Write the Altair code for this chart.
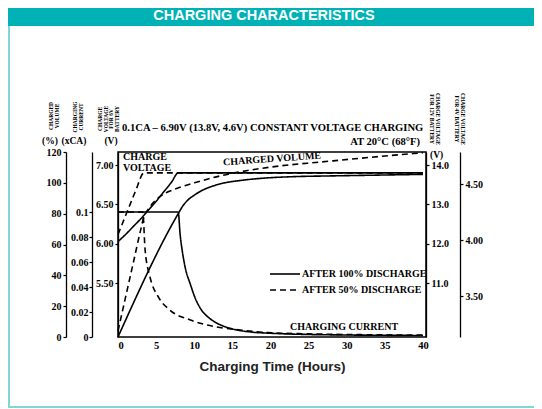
import altair as alt
import pandas as pd

TITLE = "CHARGING CHARACTERISTICS"
X_TITLE = "Charging Time (Hours)"
SUBTITLE = "0.1CA \u2013 6.90V (13.8V, 4.6V) CONSTANT VOLTAGE CHARGING"
SUBTITLE2 = "AT 20\u00b0C (68\u00b0F)"
SERIES = ["AFTER 100% DISCHARGE", "AFTER 50% DISCHARGE"]

HOUR_TICKS = [0, 5, 10, 15, 20, 25, 30, 35, 40]
VOLUME_TICKS = [0, 20, 40, 60, 80, 100, 120]
CURRENT_TICKS = [0, 0.02, 0.04, 0.06, 0.08, 0.1]
V6_TICKS = [5.5, 6.0, 6.5, 7.0]
V12_TICKS = [11.0, 12.0, 13.0, 14.0]
V4_TICKS = [3.5, 4.0, 4.5]

# charge voltage (6V battery), V
VOLT100_H = [0, 1, 2, 3, 4, 5, 6, 7, 7.9, 10, 15, 20, 25, 30, 35, 40]
VOLT100_V = [6.03, 6.12, 6.22, 6.32, 6.43, 6.54, 6.66, 6.78, 6.90, 6.90, 6.90, 6.90, 6.90, 6.90, 6.90, 6.90]
VOLT50_H = [0, 0.5, 1, 1.5, 2, 2.5, 2.8, 3.1, 3.4, 10, 20, 30, 40]
VOLT50_V = [6.12, 6.24, 6.36, 6.48, 6.60, 6.72, 6.80, 6.87, 6.90, 6.90, 6.90, 6.90, 6.90]

# charging current, xCA
CUR100_H = [0, 7.9, 8.15, 8.45, 8.8, 9.5, 10.2, 10.8, 12, 13, 15, 17.4, 20, 25, 30, 40]
CUR100_C = [0.1, 0.1, 0.082, 0.068, 0.056, 0.042, 0.030, 0.023, 0.015, 0.011, 0.0065, 0.004, 0.003, 0.002, 0.0016, 0.0012]
CUR50_H = [0, 3.25, 3.55, 4.2, 5.3, 6.8, 9.5, 13, 16, 19.6, 25, 30, 40]
CUR50_C = [0.1, 0.1, 0.070, 0.048, 0.032, 0.0216, 0.0136, 0.008, 0.0056, 0.0035, 0.0025, 0.002, 0.0015]

# charged volume, %
VOL100_H = [0, 7.9, 8.5, 9.2, 10, 11, 12.5, 14, 16, 19, 23, 28, 34, 40]
VOL100_P = [0, 80, 85, 89, 92, 95, 98, 100, 101.5, 103, 104, 104.5, 105, 105.5]
VOL50_H = [0, 1, 2, 3, 3.4, 4, 4.6, 5.5, 6.5, 7.8, 10.4, 13.4, 17, 21.3, 26.6, 33, 40]
VOL50_P = [4, 26, 48, 70, 78, 83, 87, 91, 94, 96.5, 100.5, 104.5, 108, 111, 113.5, 116.5, 119.5]

rows = []
def add(q, s, hs, vs):
    for h, v in zip(hs, vs):
        rows.append({"q": q, "series": s, "hour": h, "val": v})

add("volt", SERIES[0], VOLT100_H, VOLT100_V)
add("volt", SERIES[1], VOLT50_H, VOLT50_V)
add("cur", SERIES[0], CUR100_H, CUR100_C)
add("cur", SERIES[1], CUR50_H, CUR50_C)
add("vol", SERIES[0], VOL100_H, VOL100_P)
add("vol", SERIES[1], VOL50_H, VOL50_P)
df = pd.DataFrame(rows)

SERIF = "Liberation Serif"
SANS = "Liberation Sans"
TEAL = "#00b2b5"
BORDER = "#7fd7d7"

W, H = 308, 185
PAD_L, PAD_T = 110, 144
PAD_R = 526 - PAD_L - W
PAD_B = 401 - PAD_T - H

xenc = alt.X("hour:Q", scale=alt.Scale(domain=[0, 40.4], nice=False, zero=False),
             axis=alt.Axis(values=HOUR_TICKS, format="d", title=X_TITLE, ticks=False,
                           labelPadding=3, titlePadding=9, titleFont=SANS, titleFontSize=13.5,
                           titleFontWeight="bold", titleColor="#222222", labelFontSize=10.5,
                           domain=False))

dash = alt.StrokeDash("series:N", scale=alt.Scale(domain=SERIES, range=[[1, 0], [6, 4]]), legend=None)

def line_layer(q, domain, axis):
    return alt.Chart(df).transform_filter(alt.datum.q == q).mark_line(
        color="black", strokeWidth=1.6, interpolate="monotone"
    ).encode(
        x=xenc,
        y=alt.Y("val:Q", scale=alt.Scale(domain=domain, nice=False, zero=False), axis=axis),
        strokeDash=dash,
    )

volt = line_layer("volt", [4.82, 7.165],
                  alt.Axis(orient="left", offset=0, values=V6_TICKS, format=".2f", title=None))
cur = line_layer("cur", [0, 0.148],
                 alt.Axis(orient="left", offset=26, values=CURRENT_TICKS, format=".2~f", title=None,
                          labelPadding=1))
vol = line_layer("vol", [0, 120],
                 alt.Axis(orient="left", offset=52, values=VOLUME_TICKS, format="d", title=None))

def hidden_axis(expr, domain, axis):
    return alt.Chart(df).transform_filter(alt.datum.q == "volt").transform_calculate(
        vv=expr
    ).mark_line(opacity=0).encode(
        x=xenc,
        y=alt.Y("vv:Q", scale=alt.Scale(domain=domain, nice=False, zero=False), axis=axis),
        detail="series:N",
    )

v12 = hidden_axis("datum.val * 2", [9.64, 14.33],
                  alt.Axis(orient="right", offset=0, values=V12_TICKS, format=".1f", title=None))
v4 = hidden_axis("datum.val * 2 / 3", [3.134, 4.786],
                 alt.Axis(orient="right", offset=34, values=V4_TICKS, format=".2f", title=None))

def label(text, x, y, size=10, align="left", font=SERIF, weight="bold", angle=0,
          baseline="middle", color="black", line_height=None):
    kw = dict(align=align, baseline=baseline, fontSize=size, font=font, fontWeight=weight,
              angle=angle, color=color)
    if line_height is not None:
        kw["lineBreak"] = "\n"
        kw["lineHeight"] = line_height
    return alt.Chart(pd.DataFrame({"t": [text]})).mark_text(**kw).encode(
        text="t:N", x=alt.value(x), y=alt.value(y))

one = pd.DataFrame({"a": [0]})
header = alt.Chart(one).mark_rect(color=TEAL).encode(
    x=alt.value(-PAD_L), x2=alt.value(W + PAD_R), y=alt.value(-PAD_T), y2=alt.value(-126))
border_left = alt.Chart(one).mark_rule(color=BORDER, strokeWidth=2).encode(
    x=alt.value(-PAD_L + 1), y=alt.value(-126), y2=alt.value(H + PAD_B - 2))
border_bottom = alt.Chart(one).mark_rule(color=BORDER, strokeWidth=2).encode(
    x=alt.value(-PAD_L), x2=alt.value(W + PAD_R), y=alt.value(H + PAD_B - 2))

leg_solid = alt.Chart(one).mark_rule(color="black", strokeWidth=1.6).encode(
    x=alt.value(152), x2=alt.value(182), y=alt.value(122))
leg_dash = alt.Chart(one).mark_rule(color="black", strokeWidth=1.6, strokeDash=[6, 4]).encode(
    x=alt.value(152), x2=alt.value(182), y=alt.value(138))

texts = [
    label(TITLE, 146, -136.5, size=14.5, align="center", font=SANS, color="white"),
    label(SUBTITLE, 4, -24, size=10.6),
    label(SUBTITLE2, 302, -10, size=10.6, align="right"),
    label("(%)", -68, -11, size=9.5, align="center"),
    label("(xCA)", -44, -11, size=9.5, align="center"),
    label("(V)", -7, -11, size=9.5, align="center"),
    label("(V)", 312, 3, size=9.5),
    label("CHARGED\nVOLUME", -67, -36, size=5.5, align="center", angle=270, line_height=6),
    label("CHARGING\nCURRENT", -43, -35, size=5.5, align="center", angle=270, line_height=6),
    label("CHARGE\nVOLTAGE\nFOR 6V\nBATTERY", -18, -33, size=5.5, align="center", angle=270, line_height=5.5),
    label("CHARGE VOLTAGE\nFOR 12V BATTERY", 320, -33, size=5.5, align="center", angle=90, line_height=6),
    label("CHARGE VOLTAGE\nFOR 4V BATTERY", 345, -33, size=5.5, align="center", angle=90, line_height=6),
    label("CHARGE", 5, 5),
    label("VOLTAGE", 5, 16),
    label("CHARGED VOLUME", 154, 7, align="center", angle=356),
    label("CHARGING CURRENT", 172, 175),
    label(SERIES[0], 184, 122),
    label(SERIES[1], 184, 138),
]

chart = alt.layer(
    header, border_left, border_bottom,
    volt, cur, vol, v12, v4,
    leg_solid, leg_dash, *texts
).resolve_scale(y="independent").properties(
    width=W, height=H,
    padding={"left": PAD_L, "top": PAD_T, "right": PAD_R, "bottom": PAD_B},
    autosize=alt.AutoSizeParams(type="none"),
    background="white",
).configure_view(stroke="black", strokeWidth=1.5).configure_axis(
    labelFont=SERIF, labelFontWeight="bold", labelFontSize=10, labelColor="black",
    domainColor="black", tickColor="black", domainWidth=1.3, tickWidth=1.2,
    tickSize=3, labelPadding=2, grid=False,
)

chart.save("out.html", embed_options={"renderer": "svg", "actions": False})
